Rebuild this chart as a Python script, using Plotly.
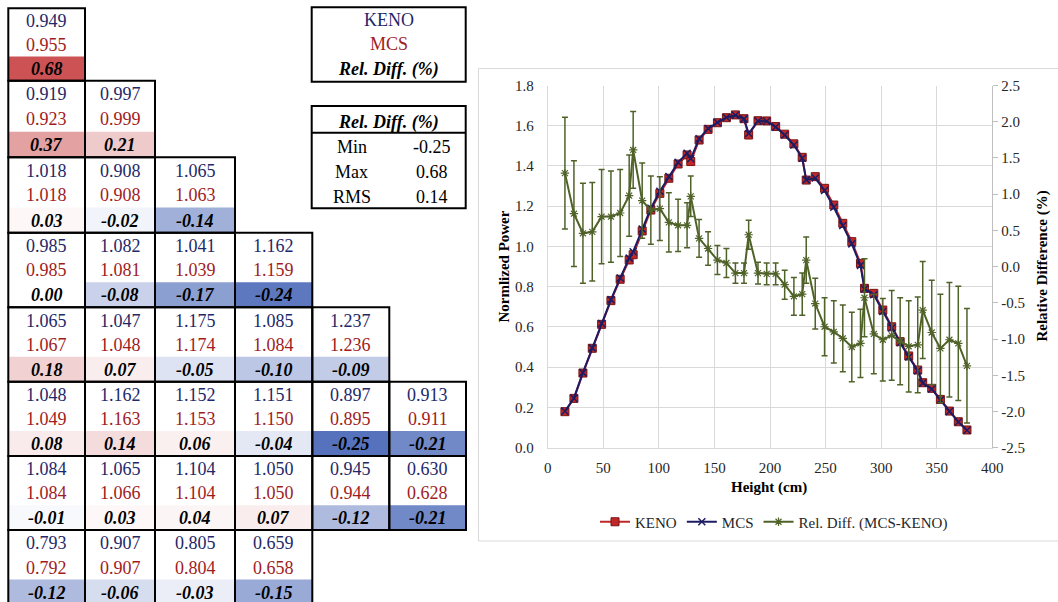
import plotly.graph_objects as go

# ---------------- chart data ----------------
height_cm = [15.5, 23.6, 31.7, 40.1, 48.5, 56.9, 65.2, 73.3, 76.9, 85.0, 92.8, 100.9, 109.0,
             117.3, 125.4, 128.7, 136.2, 144.3, 152.7, 160.8, 168.9, 176.6, 180.8, 189.2,
             197.0, 205.1, 213.2, 221.5, 229.0, 232.6, 240.7, 249.1, 257.4, 265.5, 273.6,
             281.4, 285.0, 293.4, 301.5, 309.5, 317.1, 324.8, 332.9, 337.4, 345.5, 353.3,
             361.4, 369.4, 377.2]
keno_power = [0.179, 0.245, 0.371, 0.494, 0.613, 0.731, 0.837, 0.933, 0.959, 1.077, 1.181,
              1.264, 1.339, 1.410, 1.455, 1.422, 1.529, 1.582, 1.615, 1.640, 1.654, 1.635,
              1.554, 1.625, 1.624, 1.596, 1.558, 1.510, 1.443, 1.330, 1.347, 1.289, 1.206,
              1.115, 1.024, 0.916, 0.792, 0.767, 0.684, 0.601, 0.527, 0.456, 0.386, 0.323,
              0.295, 0.240, 0.182, 0.129, 0.088]
mcs_power = [0.181, 0.246, 0.373, 0.496, 0.617, 0.736, 0.843, 0.942, 0.974, 1.087, 1.190,
             1.274, 1.347, 1.418, 1.463, 1.436, 1.535, 1.586, 1.616, 1.641, 1.652, 1.634,
             1.561, 1.624, 1.622, 1.594, 1.554, 1.504, 1.438, 1.331, 1.340, 1.278, 1.195,
             1.104, 1.013, 0.906, 0.789, 0.760, 0.677, 0.595, 0.522, 0.451, 0.382, 0.321,
             0.292, 0.237, 0.180, 0.128, 0.087]
rel_diff = [1.29, 0.73, 0.46, 0.48, 0.69, 0.69, 0.74, 0.98, 1.61, 0.91, 0.78, 0.80, 0.61,
            0.57, 0.57, 0.97, 0.39, 0.25, 0.09, 0.05, -0.09, -0.09, 0.44, -0.09, -0.10,
            -0.10, -0.25, -0.41, -0.38, 0.09, -0.51, -0.83, -0.90, -0.99, -1.11, -1.06,
            -0.43, -0.93, -1.01, -0.95, -1.03, -1.10, -1.08, -0.60, -0.91, -1.13, -1.01,
            -1.06, -1.37]
rel_err = [0.77, 0.73, 0.69, 0.68, 0.65, 0.63, 0.60, 0.56, 0.53, 0.52, 0.47, 0.44, 0.41,
           0.36, 0.31, 0.28, 0.26, 0.23, 0.20, 0.20, 0.14, 0.14, 0.20, 0.15, 0.15, 0.15,
           0.20, 0.26, 0.29, 0.32, 0.35, 0.40, 0.43, 0.46, 0.48, 0.47, 0.54, 0.55, 0.57,
           0.62, 0.60, 0.63, 0.66, 0.67, 0.72, 0.75, 0.79, 0.79, 0.79]
right_tickvals = [2.5, 2.0, 1.5, 1.0, 0.5, 0.0, -0.5, -1.0, -1.5, -2.0, -2.5]
right_ticktext = ["2.5", "2.0", "1.5", "1.0", "0.5", "0.0", "-0.5", "-1.0", "-1.5", "-2.0", "-2.5"]

# ---------------- table data ----------------
keno_rows = [
    [0.949],
    [0.919, 0.997],
    [1.018, 0.908, 1.065],
    [0.985, 1.082, 1.041, 1.162],
    [1.065, 1.047, 1.175, 1.085, 1.237],
    [1.048, 1.162, 1.152, 1.151, 0.897, 0.913],
    [1.084, 1.065, 1.104, 1.050, 0.945, 0.630],
    [0.793, 0.907, 0.805, 0.659],
]
mcs_rows = [
    [0.955],
    [0.923, 0.999],
    [1.018, 0.908, 1.063],
    [0.985, 1.081, 1.039, 1.159],
    [1.067, 1.048, 1.174, 1.084, 1.236],
    [1.049, 1.163, 1.153, 1.150, 0.895, 0.911],
    [1.084, 1.066, 1.104, 1.050, 0.944, 0.628],
    [0.792, 0.907, 0.804, 0.658],
]
diff_rows = [
    [0.68],
    [0.37, 0.21],
    [0.03, -0.02, -0.14],
    [0.00, -0.08, -0.17, -0.24],
    [0.18, 0.07, -0.05, -0.10, -0.09],
    [0.08, 0.14, 0.06, -0.04, -0.25, -0.21],
    [-0.01, 0.03, 0.04, 0.07, -0.12, -0.21],
    [-0.12, -0.06, -0.03, -0.15],
]
stat_labels = ["Min", "Max", "RMS"]
stat_values = ["-0.25", "0.68", "0.14"]

# ---------------- styling ----------------
W, H = 1058, 602
FONT = "Liberation Serif"
NAVY = "rgb(31,40,105)"
DRED = "rgb(160,28,30)"
RED = "rgb(192,40,40)"
GREEN = "rgb(79,98,40)"
GRID = "#d9d9d9"


def X(p):
    return p / W


def Y(p):
    return 1 - p / H


def band_color(v):
    if v >= 0:
        t = min(v / 0.68, 1.0)
        c1 = (204, 82, 84)
    else:
        t = min(-v / 0.25, 1.0)
        c1 = (86, 114, 188)
    c = [round(255 + (b - 255) * t) for b in c1]
    return f"rgb({c[0]},{c[1]},{c[2]})"


def text_at(px, py, text, color="black", size=18, angle=0):
    return dict(x=X(px), y=Y(py), xref="paper", yref="paper", text=text, showarrow=False,
                xanchor="center", yanchor="middle", textangle=angle,
                font=dict(family=FONT, size=size, color=color))


fig = go.Figure()
fig.add_trace(go.Scatter(
    x=height_cm, y=keno_power, name="KENO", mode="lines+markers",
    line=dict(color=RED, width=2),
    marker=dict(symbol="square", size=8, color=RED, line=dict(color="rgb(120,20,20)", width=1)),
))
fig.add_trace(go.Scatter(
    x=height_cm, y=mcs_power, name="MCS", mode="lines+markers",
    line=dict(color="rgb(28,28,100)", width=2),
    marker=dict(symbol="x-thin-open", size=7, color="rgb(28,28,100)",
                line=dict(color="rgb(28,28,100)", width=1.5)),
))
fig.add_trace(go.Scatter(
    x=height_cm, y=rel_diff, name="Rel. Diff. (MCS-KENO)", mode="lines+markers",
    yaxis="y2",
    line=dict(color=GREEN, width=2),
    marker=dict(symbol="asterisk-open", size=7, color=GREEN, line=dict(color=GREEN, width=1.2)),
    error_y=dict(type="data", array=rel_err, visible=True, color=GREEN, thickness=1.5, width=3),
))

shapes = []
annotations = []

# chart area border
shapes.append(dict(type="rect", xref="paper", yref="paper", x0=X(478.5), x1=X(1060), y0=Y(541),
                   y1=Y(68.5), line=dict(color=GRID, width=1), fillcolor="rgba(0,0,0,0)",
                   layer="below"))

# ---- triangular table ----
col_edges = [8.3, 85, 155, 235, 312.3, 389.3, 466]
row_edges = [8.3, 80.7, 157.3, 232.7, 307.3, 381.7, 456, 530, 604.5]
borders = []
for r, krow in enumerate(keno_rows):
    top, bot = row_edges[r], row_edges[r + 1]
    h = bot - top
    for c in range(len(krow)):
        left, right = col_edges[c], col_edges[c + 1]
        cx = (left + right) / 2
        shapes.append(dict(type="rect", xref="paper", yref="paper", x0=X(left), x1=X(right),
                           y0=Y(bot), y1=Y(top + 0.665 * h), line=dict(width=0),
                           fillcolor=band_color(diff_rows[r][c])))
        borders.append(dict(type="rect", xref="paper", yref="paper", x0=X(left), x1=X(right),
                            y0=Y(bot), y1=Y(top), line=dict(color="black", width=2),
                            fillcolor="rgba(0,0,0,0)"))
        annotations.append(text_at(cx, top + 0.18 * h, f"{krow[c]:.3f}", NAVY))
        annotations.append(text_at(cx, top + 0.505 * h, f"{mcs_rows[r][c]:.3f}", DRED))
        annotations.append(text_at(cx, top + 0.84 * h, f"<b><i>{diff_rows[r][c]:.2f}</i></b>"))
shapes.extend(borders)

# ---- key box ----
bx0, bx1 = 311.7, 465.7
bcx = (bx0 + bx1) / 2
shapes.append(dict(type="rect", xref="paper", yref="paper", x0=X(bx0), x1=X(bx1), y0=Y(81.7),
                   y1=Y(7.3), line=dict(color="black", width=2)))
annotations.append(text_at(bcx, 20, "KENO", NAVY))
annotations.append(text_at(bcx, 44.3, "MCS", DRED))
annotations.append(text_at(bcx, 70, "<b><i>Rel. Diff. (%)</i></b>"))

# ---- stats box ----
shapes.append(dict(type="rect", xref="paper", yref="paper", x0=X(bx0), x1=X(bx1), y0=Y(208.3),
                   y1=Y(106), line=dict(color="black", width=2)))
shapes.append(dict(type="line", xref="paper", yref="paper", x0=X(bx0), x1=X(bx1), y0=Y(132.7),
                   y1=Y(132.7), line=dict(color="black", width=2)))
annotations.append(text_at(bcx, 122.7, "<b><i>Rel. Diff. (%)</i></b>"))
for i, (lab, val) in enumerate(zip(stat_labels, stat_values)):
    yy = 146.7 + 25 * i
    annotations.append(text_at(351.7, yy, lab))
    annotations.append(text_at(431.7, yy, val))

# ---- axis titles ----
annotations.append(text_at(504, 266.6, "<b>Normlized Power</b>", size=15, angle=-90))
annotations.append(text_at(1043, 266.6, "<b>Relative Difference (%)</b>", size=15, angle=-90))
annotations.append(text_at(769, 487, "<b>Height (cm)</b>", size=15))

xdom = [X(547.7), X(992.3)]
ydom = [Y(447.7), Y(85.5)]
tickfont = dict(family=FONT, size=15, color="#262626")

fig.update_layout(
    width=W, height=H,
    margin=dict(l=0, r=0, t=0, b=0, pad=0, autoexpand=False),
    paper_bgcolor="white", plot_bgcolor="white",
    font=dict(family=FONT, size=15, color="#262626"),
    shapes=shapes, annotations=annotations,
    showlegend=True,
    legend=dict(orientation="h", x=X(774), xanchor="center", y=Y(522), yanchor="middle",
                font=dict(family=FONT, size=15, color="#262626"), bgcolor="rgba(0,0,0,0)",
                itemwidth=30, tracegroupgap=0),
    xaxis=dict(domain=xdom, range=[0, 400], tick0=0, dtick=50, showgrid=True, gridcolor=GRID,
               gridwidth=1, showline=True, linecolor=GRID, zeroline=False, ticks="outside",
               ticklen=6, tickcolor="rgba(0,0,0,0)", tickfont=tickfont, automargin=False),
    yaxis=dict(domain=ydom, range=[0, 1.8], tick0=0, dtick=0.2, tickformat=".1f",
               showgrid=True, gridcolor=GRID, gridwidth=1, showline=True, linecolor=GRID,
               zeroline=False, ticks="outside", ticklen=10, tickcolor="rgba(0,0,0,0)",
               tickfont=tickfont, automargin=False),
    yaxis2=dict(overlaying="y", side="right", anchor="x", range=[-2.5, 2.5],
                tickvals=right_tickvals, ticktext=right_ticktext, showgrid=False,
                showline=True, linecolor="#bfbfbf", zeroline=False, ticks="outside",
                ticklen=5, tickcolor="#bfbfbf", tickfont=tickfont, automargin=False),
)

fig.write_html("out.html")
